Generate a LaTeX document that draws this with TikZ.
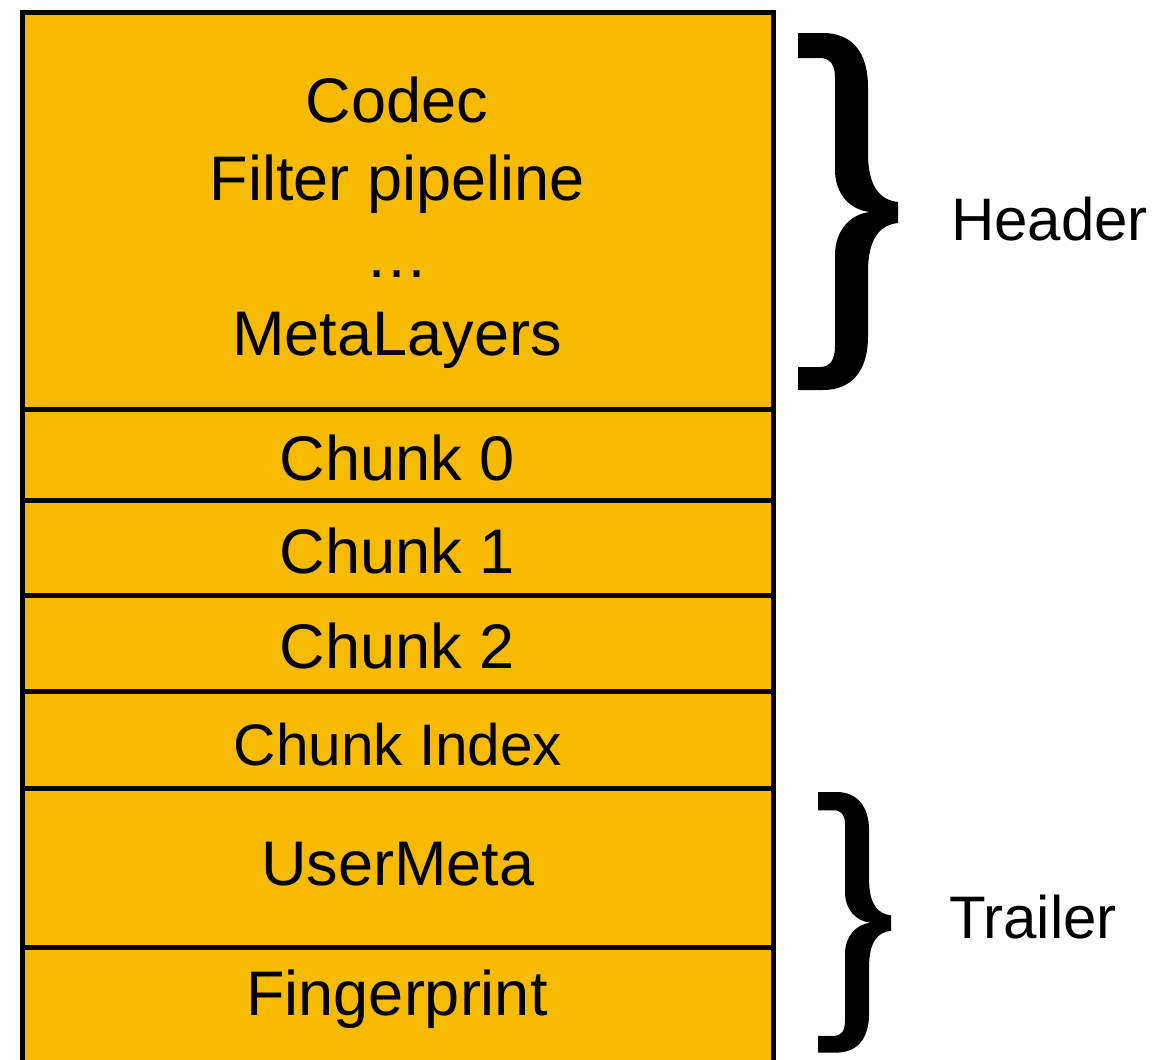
\documentclass[tikz,border=0pt]{standalone}
\usepackage{fontspec}
\setmainfont{Liberation Sans}
\definecolor{boxyellow}{RGB}{246,187,0}
\tikzset{
  rowline/.style={line width=5pt, black},
  lbl/.style={anchor=base, inner sep=0pt, font=\fontsize{63}{76}\selectfont},
  smalllbl/.style={anchor=base, inner sep=0pt, font=\fontsize{58.5}{70}\selectfont},
  sidelbl/.style={anchor=base west, inner sep=0pt, font=\fontsize{60}{72}\selectfont},
  bracefill/.style={fill=black, draw=none}
}
\begin{document}
\begin{tikzpicture}[x=1pt,y=-1pt]
\useasboundingbox (0,0) rectangle (1176,1060);
\begin{scope}
\clip (0,0) rectangle (1176,1060);
% stacked box
\fill[boxyellow] (22,12) rectangle (773,1063);
\foreach \yy in {409.5,500,595,691.5,788,947}
  \draw[rowline] (22,\yy) -- (773,\yy);
% slight overlap of the Chunk Index text background on its lower rule
\fill[boxyellow] (219,784.3) rectangle (576,786.2);
\draw[rowline, line join=miter] (22,12) rectangle (773,1063);
\end{scope}

% labels inside the box
\node[lbl] (codec)  at (397,122.7) {Codec};
\node[lbl] (filter) at (397,200)   {Filter pipeline};
\node[lbl] (dots)   at (397,277)   {…};
\node[lbl] (meta)   at (397,355)   {MetaLayers};
\node[lbl] (c0)     at (397,480)   {Chunk 0};
\node[lbl] (c1)     at (397,573)   {Chunk 1};
\node[lbl] (c2)     at (397,668)   {Chunk 2};
\node[smalllbl] (cidx) at (398,765) {Chunk Index};
\node[lbl] (umeta)  at (398,885)   {UserMeta};
\node[lbl] (fprint) at (397,1015)  {Fingerprint};

% braces
\def\bracepath{
  (0,0) -- (25,0)
  .. controls (52,0) and (70,17) .. (70,54)
  -- (70,120)
  .. controls (70,154) and (82,167) .. (100,169)
  -- (100,190)
  .. controls (82,192) and (70,205) .. (70,239)
  -- (70,303)
  .. controls (70,340) and (52,357) .. (25,357)
  -- (0,357) -- (0,334) -- (22,334)
  .. controls (32,334) and (37,327) .. (37,313)
  -- (37,222)
  .. controls (37,198) and (52,181) .. (72,179)
  .. controls (52,177) and (37,161) .. (37,137)
  -- (37,44)
  .. controls (37,32) and (32,25) .. (22,25)
  -- (0,25) -- cycle}
\begin{scope}[shift={(798,33)}]
  \fill[bracefill] \bracepath;
\end{scope}
\begin{scope}[shift={(818,792)}, scale=0.73]
  \fill[bracefill] \bracepath;
\end{scope}

\node[sidelbl] (header)  at (951,240) {Header};
\node[sidelbl] (trailer) at (949,938) {Trailer};
\end{tikzpicture}
\end{document}
